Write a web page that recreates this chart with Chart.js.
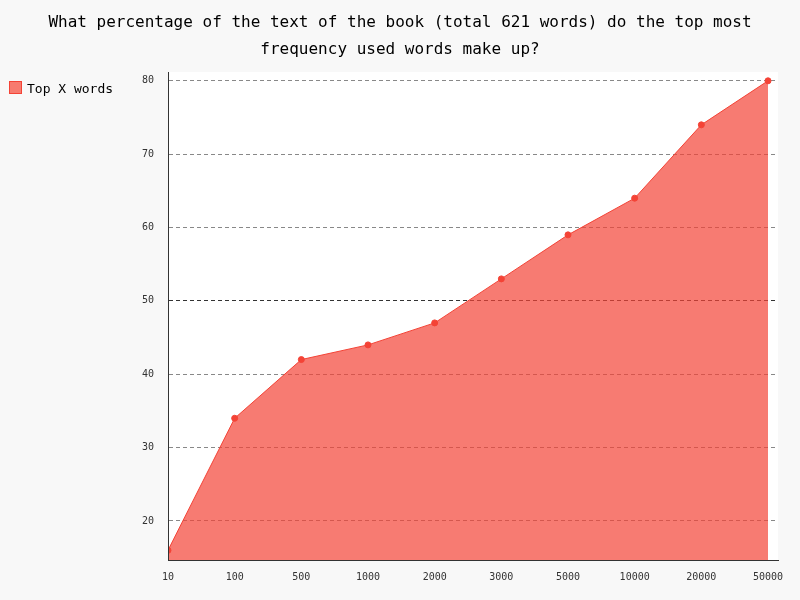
<!DOCTYPE html>
<html>
<head>
<meta charset="utf-8">
<script src="https://cdn.jsdelivr.net/npm/chart.js@4"></script>
<style>
  html, body { margin:0; padding:0; background:#f8f8f8; }
  #wrap { position:relative; width:800px; height:600px; }
  #title { position:absolute; left:0; top:8px; width:800px; text-align:center;
           font:16px "DejaVu Sans Mono", monospace; color:#000; line-height:27px; }
  #legend { position:absolute; left:9px; top:81px; font:13px "DejaVu Sans Mono", monospace; color:#000; }
  #legend span.box { display:inline-block; width:11px; height:11px; background:#f77b6f;
           border:1px solid #f44336; vertical-align:-1px; margin-right:5px; }
  canvas { position:absolute; left:0; top:0; }
</style>
</head>
<body>
<div id="wrap">
  <canvas id="c" width="800" height="600"></canvas>
  <div id="title">What percentage of the text of the book (total 621 words) do the top most<br>frequency used words make up?</div>
  <div id="legend"><span class="box"></span>Top X words</div>
</div>
<script>
const categories = ['10','100','500','1000','2000','3000','5000','10000','20000','50000'];
const values = [16, 34, 42, 44, 47, 53, 59, 64, 74, 80];
const yTicks = [20, 30, 40, 50, 60, 70, 80];

const plotBg = {
  id: 'plotBg',
  beforeDraw(chart) {
    const a = chart.chartArea, ctx = chart.ctx;
    ctx.save();
    ctx.fillStyle = '#ffffff';
    ctx.fillRect(a.left, a.top, a.right - a.left, a.bottom - a.top);
    ctx.restore();
  }
};

new Chart(document.getElementById('c'), {
  type: 'line',
  data: {
    datasets: [{
      label: 'Top X words',
      data: values.map((v, i) => ({ x: i, y: v })),
      borderColor: '#f44336',
      borderWidth: 1,
      backgroundColor: 'rgba(244,67,54,0.7)',
      pointBackgroundColor: '#f44336',
      pointBorderColor: '#f44336',
      pointRadius: 3,
      fill: 'start',
      tension: 0
    }]
  },
  options: {
    responsive: false,
    animation: false,
    layout: { padding: { left: 0, top: 72, right: 22, bottom: 0 } },
    plugins: { legend: { display: false }, tooltip: { enabled: false } },
    scales: {
      x: {
        type: 'linear', min: 0, max: 9.15,
        afterBuildTicks: s => { s.ticks = categories.map((c, i) => ({ value: i })); },
        afterFit: s => { s.height = 40; },
        grid: { display: false },
        border: { display: true, color: '#333' },
        ticks: { color: '#333', font: { family: 'DejaVu Sans Mono', size: 10 },
                 callback: v => categories[v], maxRotation: 0, autoSkip: false }
      },
      y: {
        min: 14.68, max: 81.2,
        afterBuildTicks: s => { s.ticks = yTicks.map(v => ({ value: v })); },
        afterFit: s => { s.width = 168; },
        grid: {
          color: c => c.tick && c.tick.value === 50 ? '#333' : '#888',
          drawTicks: false
        },
        border: { display: true, color: '#333', dash: [4, 3] },
        ticks: { color: '#333', font: { family: 'DejaVu Sans Mono', size: 10 }, padding: 14 }
      }
    }
  },
  plugins: [plotBg, {
    id: 'axisLines',
    afterDraw(chart) {
      const a = chart.chartArea, ctx = chart.ctx;
      ctx.save();
      ctx.strokeStyle = '#333'; ctx.lineWidth = 1; ctx.setLineDash([]);
      ctx.beginPath();
      ctx.moveTo(a.left + 0.5, a.top); ctx.lineTo(a.left + 0.5, a.bottom);
      ctx.moveTo(a.left, a.bottom + 0.5); ctx.lineTo(a.right, a.bottom + 0.5);
      ctx.stroke();
      ctx.restore();
    }
  }]
});
</script>
</body>
</html>
